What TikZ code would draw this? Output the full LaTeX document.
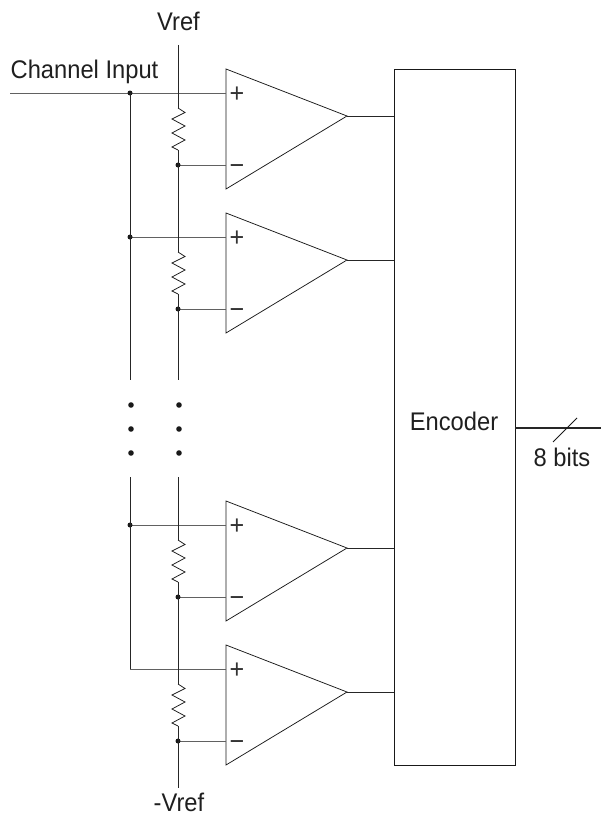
\documentclass[tikz,border=0pt]{standalone}
\usepackage{fontspec}
\setmainfont[FakeStretch=0.93]{Liberation Sans}
\tikzset{
  wire/.style={line width=0.85pt,draw=black!85},
  soft/.style={line width=1pt,draw=black!62},
  amp/.style={line width=0.75pt,draw=black!90,line join=miter},
  junction/.style={circle,fill=black!90,inner sep=0pt,minimum size=5pt},
  sdot/.style={circle,fill=black!90,inner sep=0pt,minimum size=5.6pt},
  lbl/.style={font=\fontsize{25.5}{28}\selectfont,inner sep=0pt,text=black!88},
  sign/.style={font=\fontsize{27}{28}\selectfont,inner sep=0pt,text=black!80,anchor=base},
  enc/.style={draw=black!90,line width=0.8pt,minimum width=121pt,minimum height=696pt,inner sep=0pt}
}
\begin{document}
\begin{tikzpicture}[x=1pt,y=-1pt]
\useasboundingbox (0,0) rectangle (601,816);
\node[enc] (E) at (454.5,417) {};
\node[lbl] (enclabel) at (454,421) {Encoder};
\node[lbl] (vref) at (178.5,21) {Vref};
\node[lbl] (mvref) at (179,802.5) {-Vref};
\node[lbl] (chan) at (84.5,72) {Channel Input};
\node[lbl] (bits) at (562,457) {8 bits};
\coordinate (vtop) at (178,45);
\coordinate (vbot) at (178,788);
\coordinate (inl) at (10,93);
\foreach \n/\y in {1/69,2/213,3/501,4/645}{
  \coordinate (t\n) at (226,\y);
  \coordinate (b\n) at (226,\y+120);
  \coordinate (o\n) at (347,\y+47);
  \coordinate (e\n) at (394,\y+47);
  \coordinate (p\n) at (226,\y+24);
  \coordinate (m\n) at (226,\y+96);
  \coordinate (rp\n) at (178,\y+24);
  \coordinate (rm\n) at (178,\y+96);
  \coordinate (cp\n) at (130,\y+24);
  \coordinate (rs\n) at (178,\y+39);
  \coordinate (re\n) at (178,\y+81);
  \draw[amp] (t\n) -- (o\n) -- (b\n) -- cycle;
  \draw[wire] (o\n) -- (e\n);
  \draw[soft] (rm\n) -- (m\n);
  \draw[amp] (rs\n) -- ++(7,4.5) -- ++(-13,6.5) -- ++(13,7) -- ++(-13,7) -- ++(13,7) -- ++(-13,7) -- (re\n);
  \node[sign] (plus\n) at (237,\y+33) {+};
  \node[sign] (minus\n) at (237,\y+105) {−};
  \node[junction] (jm\n) at (rm\n) {};
}
\draw[soft] (inl) -- (p1);
\foreach \n in {2,3,4}{\draw[soft] (cp\n) -- (p\n);}
\foreach \n in {1,2,3}{\node[junction] (jp\n) at (cp\n) {};}
\coordinate (l1) at (130,380); \coordinate (l2) at (178,380);
\coordinate (l3) at (130,477); \coordinate (l4) at (178,477);
\draw[wire] (cp1) -- (l1);
\draw[wire] (vtop) -- (rs1);
\draw[wire] (re1) -- (rs2);
\draw[wire] (re2) -- (l2);
\draw[wire] (l3) -- (cp4);
\draw[wire] (l4) -- (rs3);
\draw[wire] (re3) -- (rs4);
\draw[wire] (re4) -- (vbot);
\foreach \y in {405,429,453}{
  \node[sdot] (da\y) at (131,\y) {};
  \node[sdot] (db\y) at (179,\y) {};
}
\coordinate (outs) at (E.east |- 0,428);
\coordinate (oute) at (601,428);
\draw[line width=2pt,draw=black!85] (outs) -- (oute);
\coordinate (sl1) at (553,442);
\coordinate (sl2) at (577,418);
\draw[amp] (sl1) -- (sl2);
\end{tikzpicture}
\end{document}
